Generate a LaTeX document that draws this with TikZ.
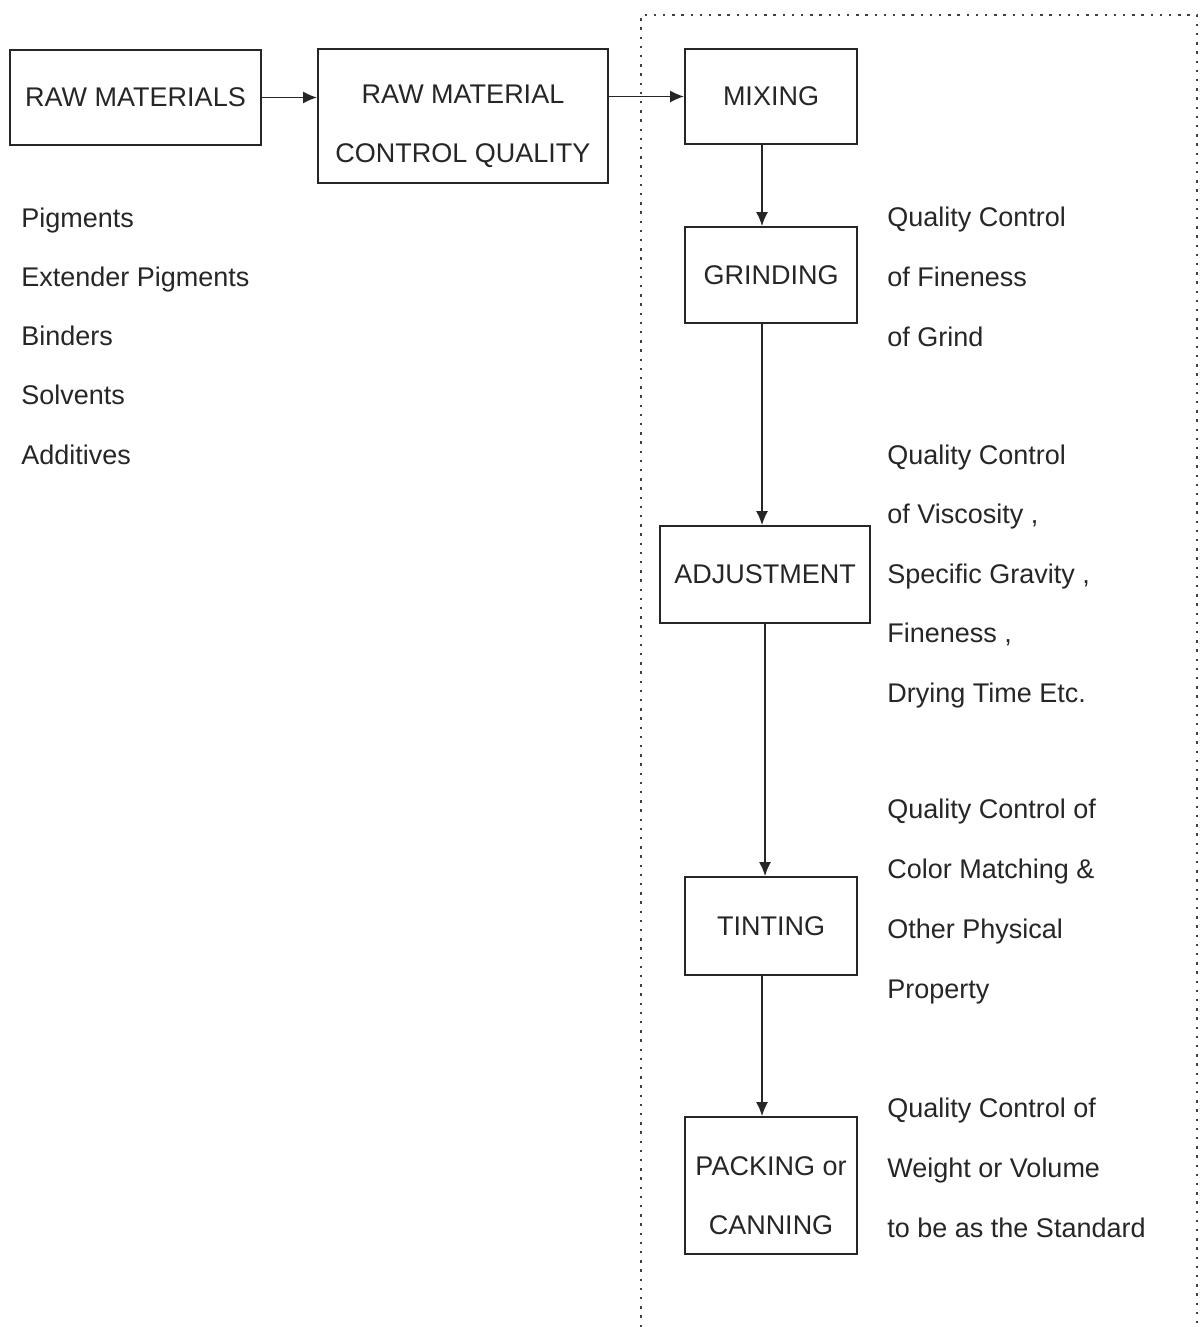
\documentclass[tikz,border=0pt]{standalone}
\usepackage{fontspec}
\setmainfont{Liberation Sans}
\usetikzlibrary{arrows.meta}

\tikzset{
  stepbox/.style={draw=black!85, line width=0.9pt, align=center, text=black!85, inner sep=2pt},
  lbl/.style={anchor=base west, text=black!85, inner sep=0pt},
  flow/.style={-{Latex[length=7pt,width=6pt]}, line width=0.8pt, draw=black!85},
  frame/.style={line width=1.3pt, black!75, dash pattern=on 1.2pt off 3.4pt}
}
\newcommand{\lowtop}{\rule{0pt}{19.5pt}}

\begin{document}
\begin{tikzpicture}[x=0.5pt, y=-0.5pt, font=\fontsize{13.5}{29.5}\selectfont]
  \useasboundingbox (0,0) rectangle (1199,1327);

  % dotted frame round the production line
  \draw[frame] (641,1327) -- (641,15) -- (1197,15) -- (1197,1327);

  % boxes
  \node[stepbox, minimum width=125.5pt, minimum height=47.5pt] (raw)   at (135.5,97.5) {RAW MATERIALS};
  \node[stepbox, minimum width=145pt,   minimum height=67pt]   (check) at (463,116)    {\lowtop RAW MATERIAL\\CONTROL QUALITY};
  \node[stepbox, minimum width=86pt,    minimum height=47.5pt] (mix)   at (771,96.5)   {MIXING};
  \node[stepbox, minimum width=86pt,    minimum height=48pt]   (grind) at (771,275)    {GRINDING};
  \node[stepbox, minimum width=105pt,   minimum height=48.5pt] (adj)   at (765,574.5)  {ADJUSTMENT};
  \node[stepbox, minimum width=86pt,    minimum height=49pt]   (tint)  at (771,926)    {TINTING};
  \node[stepbox, minimum width=86pt,    minimum height=68.5pt] (pack)  at (771,1185.5) {\lowtop PACKING or\\CANNING};

  % arrows
  \draw[flow] (raw.east) -- (raw.east -| check.west);
  \draw[flow] (mix.west -| check.east) -- (mix.west);
  \draw[flow] ([xshift=-4.5pt]mix.south) -- ([xshift=-4.5pt]grind.north);
  \draw[flow] ([xshift=-4.5pt]grind.south) -- ([xshift=-4.5pt]grind.south |- adj.north);
  \draw[flow] (adj.south) -- (adj.south |- tint.north);
  \draw[flow] ([xshift=-4.5pt]tint.south) -- ([xshift=-4.5pt]pack.north);

  % raw materials list
  \foreach \t [count=\i from 0] in {Pigments, Extender Pigments, Binders, Solvents, Additives}
    \node[lbl] (mat\i) at (21,{227+59.3*\i}) {\t};

  % quality control notes
  \foreach \t [count=\i from 0] in {Quality Control, of Fineness, of Grind}
    \node[lbl] (fine\i) at (887,{226+60*\i}) {\t};
  \foreach \t [count=\i from 0] in {Quality Control, {of Viscosity ,}, {Specific Gravity ,}, {Fineness ,}, Drying Time Etc.}
    \node[lbl] (visc\i) at (887,{464+59.5*\i}) {\t};
  \foreach \t [count=\i from 0] in {Quality Control of, Color Matching \&, Other Physical, Property}
    \node[lbl] (color\i) at (887,{818+60*\i}) {\t};
  \foreach \t [count=\i from 0] in {Quality Control of, Weight or Volume, to be as the Standard}
    \node[lbl] (weight\i) at (887,{1117+60*\i}) {\t};
\end{tikzpicture}
\end{document}
